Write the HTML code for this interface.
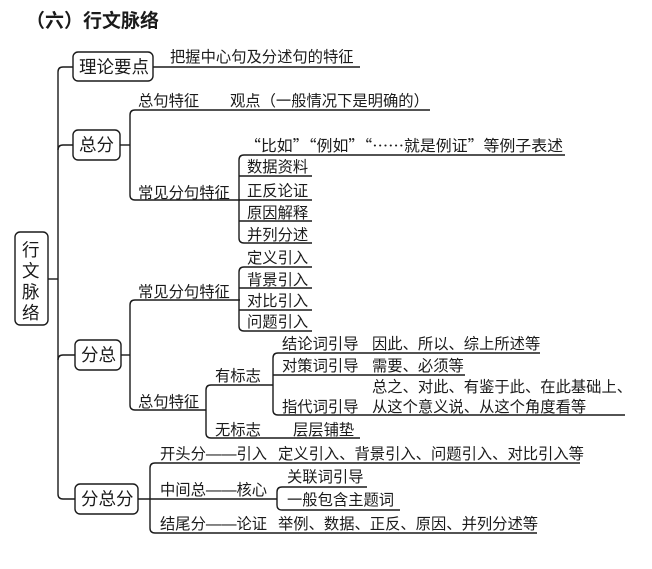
<!DOCTYPE html>
<html><head><meta charset="utf-8"><style>
html,body{margin:0;padding:0;background:#fff;}
svg{display:block;}
text{font-family:"Liberation Sans","Noto Sans CJK SC",sans-serif;fill:#1a1a1a;}
.t{font-size:15.3px;}
.b{font-size:17.5px;}
.q{font-family:"Noto Sans CJK SC",sans-serif;}
</style></head><body>
<svg width="652" height="569" viewBox="0 0 652 569" xmlns="http://www.w3.org/2000/svg">
<g fill="none" stroke="#1a1a1a" stroke-width="1.4">
<rect x="15" y="232" width="33" height="93" rx="5"/>
<rect x="73" y="52" width="80" height="29" rx="5"/>
<rect x="73" y="130" width="47" height="30" rx="5"/>
<rect x="75" y="340" width="46" height="30" rx="5"/>
<rect x="75" y="484" width="63" height="30" rx="5"/>
<path d="M73 67 H63 Q58 67 58 72 V494 Q58 499 63 499 H75"/>
<path d="M48 279 H58"/>
<path d="M58 150 Q58 145 63 145 H73"/>
<path d="M58 360 Q58 355 63 355 H75"/>
<path d="M153 67 H360"/>
<path d="M120 145 H130"/>
<path d="M430 110 H135 Q130 110 130 115 V195 Q130 200 135 200 H240"/>
<path d="M565 155 H244 Q239 155 239 160 V238 Q239 243 244 243 H312"/>
<path d="M239 176 H312 M239 200 H312 M239 221 H312"/>
<path d="M121 355 H130"/>
<path d="M240 300 H135 Q130 300 130 305 V405 Q130 410 135 410 H206"/>
<path d="M312 267 H244 Q239 267 239 272 V326 Q239 331 244 331 H312"/>
<path d="M239 288 H312 M239 310 H312"/>
<path d="M273 385 H211 Q206 385 206 390 V433 Q206 438 211 438 H360"/>
<path d="M540 353 H278 Q273 353 273 358 V410 Q273 415 278 415 H625"/>
<path d="M273 375 H465"/>
<path d="M580 463 H155 Q150 463 150 468 V528 Q150 533 155 533 H537"/>
<path d="M138 499 H277"/>
<path d="M367 487 H282 Q277 487 277 492 V505 Q277 510 282 510 H400"/>
</g>
<text x="26" y="27" style="font-size:19px;font-weight:bold">（六）行文脉络</text>
<text class="b" x="22" y="256">行</text>
<text class="b" x="22" y="277">文</text>
<text class="b" x="22" y="298">脉</text>
<text class="b" x="22" y="319">络</text>
<text class="b" x="79" y="73">理论要点</text>
<text class="b" x="79" y="151">总分</text>
<text class="b" x="81" y="361">分总</text>
<text class="b" x="81" y="505">分总分</text>
<g class="t">
<text x="170" y="62">把握中心句及分述句的特征</text>
<text x="138" y="106">总句特征</text>
<text x="230" y="106">观点（一般情况下是明确的）</text>
<text class="q" x="245" y="151" textLength="318" lengthAdjust="spacingAndGlyphs">“比如”“例如”“……就是例证”等例子表述</text>
<text x="138" y="198">常见分句特征</text>
<text x="247" y="172">数据资料</text>
<text x="247" y="196">正反论证</text>
<text x="247" y="218">原因解释</text>
<text x="247" y="240">并列分述</text>
<text x="247" y="263">定义引入</text>
<text x="247" y="285">背景引入</text>
<text x="247" y="306">对比引入</text>
<text x="247" y="327">问题引入</text>
<text x="138" y="297">常见分句特征</text>
<text x="138" y="407">总句特征</text>
<text x="215" y="381">有标志</text>
<text x="282" y="349">结论词引导</text>
<text x="372" y="349">因此、所以、综上所述等</text>
<text x="282" y="371">对策词引导</text>
<text x="372" y="371">需要、必须等</text>
<text x="372" y="392">总之、对此、有鉴于此、在此基础上、</text>
<text x="282" y="412">指代词引导</text>
<text x="372" y="412">从这个意义说、从这个角度看等</text>
<text x="215" y="435">无标志</text>
<text x="293" y="435">层层铺垫</text>
<text x="160" y="459">开头分——引入</text>
<text x="278" y="459">定义引入、背景引入、问题引入、对比引入等</text>
<text x="160" y="495">中间总——核心</text>
<text x="287" y="482">关联词引导</text>
<text x="287" y="505">一般包含主题词</text>
<text x="160" y="529">结尾分——论证</text>
<text x="278" y="529">举例、数据、正反、原因、并列分述等</text>
</g>
</svg>
</body></html>
